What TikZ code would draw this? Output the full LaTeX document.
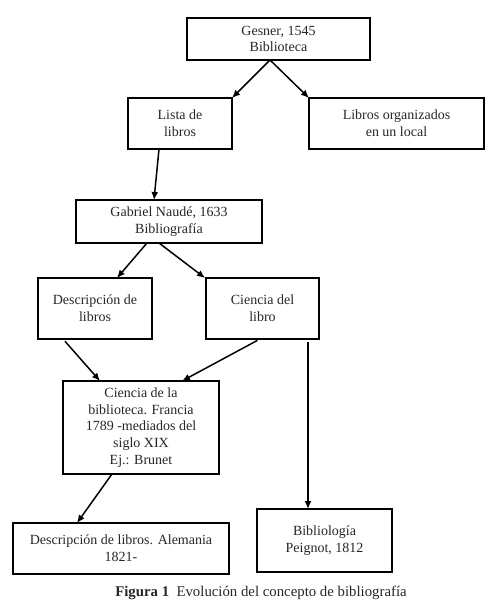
\documentclass[tikz,border=0pt]{standalone}
\usepackage{fontspec}
\setmainfont{Liberation Serif}
\usetikzlibrary{arrows.meta}
\begin{document}
\begin{tikzpicture}[x=1pt,y=-1pt,
  box/.style={draw, line width=1.3pt, outer sep=0pt, inner sep=2pt, align=center,
    font=\rmfamily\fontsize{14}{16.7}\selectfont, text=black!85},
  arr/.style={line width=1.5pt, -{Latex[length=8pt,width=7pt]}}]
\useasboundingbox (0,0) rectangle (499,611);
\node[box, minimum width=183pt, minimum height=42pt] (g) at (278.5,39) {Gesner, 1545\\Biblioteca};
\node[box, minimum width=104pt, minimum height=51pt] (lista) at (180,123.5) {Lista de\\libros};
\node[box, minimum width=175pt, minimum height=51pt] (local) at (396.5,123.5) {Libros organizados\\en un local};
\node[box, minimum width=186pt, minimum height=43pt] (naude) at (169,221.5) {Gabriel Naudé, 1633\\Bibliografía};
\node[box, minimum width=114pt, minimum height=61pt] (desc) at (95,308.5) {Descripción de\\libros};
\node[box, minimum width=113pt, minimum height=61pt] (cl) at (262.5,308.5) {Ciencia del\\libro};
\node[box, minimum width=156pt, minimum height=93pt] (cb) at (141,427.5) {Ciencia de la\\biblioteca. Francia\\1789 -mediados del\\siglo XIX\\Ej.: Brunet};
\node[box, minimum width=216pt, minimum height=51pt] (al) at (121,548.5) {Descripción de libros. Alemania\\1821-};
\node[box, minimum width=135pt, minimum height=63pt] (bib) at (324.5,540.5) {Bibliología\\Peignot, 1812};
\node[font=\rmfamily\fontsize{14.8}{17}\selectfont, text=black!85] (cap) at (261,593) {\textbf{Figura 1}\ \ Evolución del concepto de bibliografía};
\draw[arr] ([xshift=-8.5]g.south) -- (lista.north east);
\draw[arr] ([xshift=-8.5]g.south) -- (local.north west);
\draw[arr] ([xshift=-21]lista.south) -- ([xshift=-15]naude.north);
\draw[arr] ([xshift=-22]naude.south) -- ([xshift=22]desc.north);
\draw[arr] ([xshift=-10]naude.south) -- ([xshift=-1]cl.north west);
\draw[arr, shorten <=3pt] ([xshift=-32]desc.south) -- ([xshift=-41]cb.north);
\draw[arr, shorten <=3pt] ([xshift=-2.5]cl.south) -- ([xshift=41]cb.north);
\draw[arr, shorten <=3pt] ([xshift=45.5]cl.south) -- ([xshift=-16.5]bib.north);
\draw[arr] ([xshift=-29]cb.south) -- ([xshift=-44]al.north);
\end{tikzpicture}
\end{document}
